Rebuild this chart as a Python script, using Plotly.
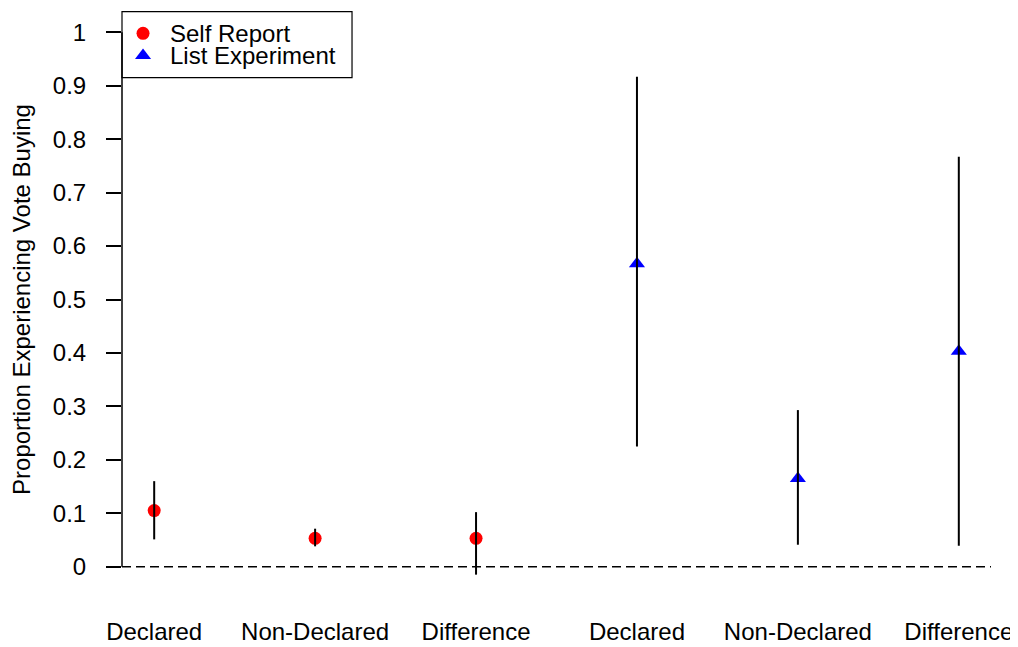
import plotly.graph_objects as go

# ---- data ----
categories = ["Declared", "Non-Declared", "Difference", "Declared", "Non-Declared", "Difference"]
self_x = [1, 2, 3]
self_est = [0.105, 0.053, 0.053]
self_lo = [0.051, 0.038, -0.015]
self_hi = [0.160, 0.071, 0.102]

list_x = [4, 5, 6]
list_est = [0.567, 0.165, 0.403]
list_lo = [0.225, 0.041, 0.039]
list_hi = [0.917, 0.293, 0.767]

y_ticks = [0, 0.1, 0.2, 0.3, 0.4, 0.5, 0.6, 0.7, 0.8, 0.9, 1]
y_tick_labels = ["0", "0.1", "0.2", "0.3", "0.4", "0.5", "0.6", "0.7", "0.8", "0.9", "1"]

legend_labels = ["Self Report", "List Experiment"]

FONT = "Liberation Sans, Arial, Helvetica, sans-serif"
FS = 24
RED = "#FF0000"
BLUE = "#0000FF"
CIRCLE = dict(symbol="circle", size=13, color=RED, line=dict(width=0))
TRIANGLE = dict(symbol="triangle-up", size=14, color=BLUE, line=dict(width=0))

fig = go.Figure()

fig.add_trace(go.Scatter(
    x=self_x, y=self_est, mode="markers", name=legend_labels[0],
    marker=CIRCLE, showlegend=False,
))
fig.add_trace(go.Scatter(
    x=list_x, y=list_est, mode="markers", name=legend_labels[1],
    marker=TRIANGLE, showlegend=False,
))

# confidence interval segments drawn over markers
ci_x, ci_y = [], []
for xs, lo, hi in ((self_x, self_lo, self_hi), (list_x, list_lo, list_hi)):
    for xv, l, h in zip(xs, lo, hi):
        ci_x += [xv, xv, None]
        ci_y += [l, h, None]
fig.add_trace(go.Scatter(
    x=ci_x, y=ci_y, mode="lines", showlegend=False, hoverinfo="skip",
    line=dict(color="black", width=2),
))

# ---- compact R-style legend (box + symbols + labels) ----
leg_sym_x = 0.0242
leg_row_y = [0.9613, 0.9227]
leg_text_y = [0.9610, 0.9237]
fig.add_trace(go.Scatter(
    x=[leg_sym_x], y=[leg_row_y[0]], xaxis="x2", yaxis="y2", mode="markers",
    marker=CIRCLE, showlegend=False, hoverinfo="skip",
))
fig.add_trace(go.Scatter(
    x=[leg_sym_x], y=[leg_row_y[1]], xaxis="x2", yaxis="y2", mode="markers",
    marker=TRIANGLE, showlegend=False, hoverinfo="skip",
))
for lab, ty in zip(legend_labels, leg_text_y):
    fig.add_annotation(text=lab, xref="paper", yref="paper", x=0.0529, y=ty,
                       xanchor="left", yanchor="middle", showarrow=False,
                       font=dict(family=FONT, size=FS, color="black"))
fig.add_shape(type="rect", xref="paper", yref="paper", x0=0, x1=0.2647, y0=0.8847, y1=0.999,
              line=dict(color="black", width=1.2), fillcolor="rgba(0,0,0,0)", layer="above")

# dashed zero reference line across the plot region
fig.add_shape(type="line", xref="paper", x0=0, x1=1, yref="y", y0=0, y1=0,
              line=dict(color="black", width=1.5, dash="9px,5px"))
# y axis line spanning the tick range only (R style)
fig.add_shape(type="line", xref="paper", x0=0, x1=0, yref="y", y0=y_ticks[0], y1=y_ticks[-1],
              line=dict(color="black", width=1.5))

fig.update_layout(
    width=1010, height=639,
    margin=dict(l=114, r=27, t=3, b=59, autoexpand=False),
    paper_bgcolor="white", plot_bgcolor="white",
    font=dict(family=FONT, size=FS, color="black"),
    showlegend=False,
    xaxis=dict(
        range=[0.8, 6.2], tickmode="array",
        tickvals=self_x + list_x, ticktext=categories,
        showgrid=False, zeroline=False, showline=False, ticks="",
        ticklabelstandoff=27, automargin=False,
        tickfont=dict(family=FONT, size=FS, color="black"),
    ),
    yaxis=dict(
        range=[-0.04, 1.04], tickmode="array",
        tickvals=y_ticks, ticktext=y_tick_labels,
        showgrid=False, zeroline=False, showline=False,
        ticks="outside", ticklen=15, tickwidth=1.5, tickcolor="black",
        ticklabelstandoff=15, automargin=False,
        tickfont=dict(family=FONT, size=FS, color="black"),
        title=dict(text="Proportion Experiencing Vote Buying",
                   font=dict(family=FONT, size=FS, color="black"), standoff=16),
    ),
    xaxis2=dict(overlaying="x", range=[0, 1], visible=False, fixedrange=True),
    yaxis2=dict(overlaying="y", range=[0, 1], visible=False, fixedrange=True),
)

fig.write_html("out.html")
